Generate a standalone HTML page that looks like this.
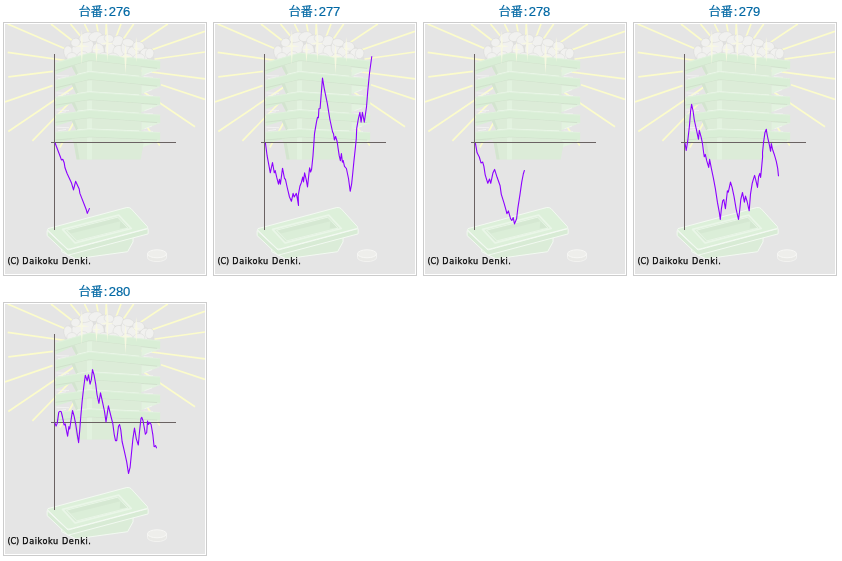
<!DOCTYPE html>
<html><head><meta charset="utf-8"><title>graph</title>
<style>
html,body{margin:0;padding:0;background:#fff}
body{position:relative;width:842px;height:561px;overflow:hidden;font-family:"Liberation Sans","Noto Sans CJK JP",sans-serif}
.t{position:absolute;width:204px;height:22px;line-height:22px;text-align:center;font-size:13px;color:#0068a4;-webkit-text-stroke:0.2px #0068a4}
.j{font-size:12px;margin-right:1.1px;position:relative;top:-0.3px}
.k{margin-right:1.3px}
.c{position:absolute;width:200px;height:250px;padding:1px;border:1px solid #ccc;background:#fff}
.c svg{display:block}
.cp{font-family:"DejaVu Sans Condensed","DejaVu Sans","Liberation Sans",sans-serif;font-size:9px;fill:#000;letter-spacing:0.6px;stroke:#000;stroke-width:0.25px}
</style></head><body>
<svg width="0" height="0" style="position:absolute"><defs>
<g id="tr"><path d="M50.5 38.6L84.5 28.8L155.2 36.7L155.2 44.9L136.4 42.6L84.5 36.8L67.9 42.2L50.5 50.4Z" fill="#d9eed6"/><path d="M136.4 42.6L155.2 44.9L137.9 51.7L136.4 52.0Z" fill="#e2f2df"/><path d="M50.5 46.6L84.5 36.8L152.2 44.4" fill="none" stroke="#cfe0cb" stroke-width="0.9"/><path d="M51.0 38.9L84.5 29.1L154.89999999999998 37.0" fill="none" stroke="#e2f2df" stroke-width="0.7"/><path d="M66.4 42.0L84.5 36.8L136.4 42.6L136.4 53.2L84.5 47.8L71.5 51.4Z" fill="#dcecd8"/><path d="M66.4 42.0L69.7 41.1L73.5 50.4L71.5 51.4Z" fill="#d3e4cf"/><path d="M82 38.0L87 37.6L87 48.0L82 48.4Z" fill="#e2f2df"/><path d="M72 50.8L84.5 47.8L134.2 52.5" fill="none" stroke="#eef8ec" stroke-width="1.5"/><path d="M51.5 51.6L64 52.0M53 54.7L61 53.3M138.5 52.5L148 53.4M139.5 50.7L147 47.9" fill="none" stroke="#f4f4f2" stroke-width="0.8"/>
<path d="M50.5 55.9L84.5 47.8L155.2 54.5L155.2 62.7L136.4 60.7L84.5 55.8L67.9 60.4L50.5 67.7Z" fill="#d9eed6"/><path d="M136.4 60.7L155.2 62.7L137.9 69.5L136.4 69.8Z" fill="#e2f2df"/><path d="M50.5 63.9L84.5 55.8L152.2 62.2" fill="none" stroke="#cfe0cb" stroke-width="0.9"/><path d="M51.0 56.2L84.5 48.1L154.89999999999998 54.8" fill="none" stroke="#e2f2df" stroke-width="0.7"/><path d="M66.4 60.1L84.5 55.8L136.4 60.7L136.4 72.0L84.5 68.0L71.5 70.5Z" fill="#dcecd8"/><path d="M66.4 60.1L69.7 59.3L73.5 69.6L71.5 70.5Z" fill="#d3e4cf"/><path d="M82 56.9L87 56.5L87 68.2L82 68.4Z" fill="#e2f2df"/><path d="M72 69.9L84.5 68.0L134.2 71.3" fill="none" stroke="#eef8ec" stroke-width="1.5"/><path d="M51.5 68.9L64 69.3M53 71.9L61 70.5M138.5 71.2L148 71.8M139.5 68.5L147 65.7" fill="none" stroke="#f4f4f2" stroke-width="0.8"/>
<path d="M50.5 73.1L84.5 68.0L155.2 72.7L155.2 80.9L136.4 79.5L84.5 76.0L67.9 79.1L50.5 84.9Z" fill="#d9eed6"/><path d="M136.4 79.5L155.2 80.9L137.9 87.7L136.4 88.0Z" fill="#e2f2df"/><path d="M50.5 81.1L84.5 76.0L152.2 80.5" fill="none" stroke="#cfe0cb" stroke-width="0.9"/><path d="M51.0 73.4L84.5 68.3L154.89999999999998 73.0" fill="none" stroke="#e2f2df" stroke-width="0.7"/><path d="M66.4 78.7L84.5 76.0L136.4 79.5L136.4 90.1L84.5 86.1L71.5 88.2Z" fill="#dcecd8"/><path d="M66.4 78.7L69.7 78.2L73.5 87.5L71.5 88.2Z" fill="#d3e4cf"/><path d="M82 76.9L87 76.7L87 86.3L82 86.4Z" fill="#e2f2df"/><path d="M72 87.6L84.5 86.1L134.2 89.4" fill="none" stroke="#eef8ec" stroke-width="1.5"/><path d="M51.5 86.1L64 86.5M53 89.1L61 87.7M138.5 89.3L148 89.9M139.5 86.7L147 83.9" fill="none" stroke="#f4f4f2" stroke-width="0.8"/>
<path d="M50.5 90.3L84.5 86.1L155.2 90.8L155.2 99.0L136.4 97.6L84.5 94.1L67.9 96.8L50.5 102.1Z" fill="#d9eed6"/><path d="M136.4 97.6L155.2 99.0L137.9 105.8L136.4 106.1Z" fill="#e2f2df"/><path d="M50.5 98.3L84.5 94.1L152.2 98.6" fill="none" stroke="#cfe0cb" stroke-width="0.9"/><path d="M51.0 90.6L84.5 86.4L154.89999999999998 91.1" fill="none" stroke="#e2f2df" stroke-width="0.7"/><path d="M66.4 96.3L84.5 94.1L136.4 97.6L136.4 107.9L84.5 105.2L71.5 106.8Z" fill="#dcecd8"/><path d="M66.4 96.3L69.7 95.9L73.5 106.1L71.5 106.8Z" fill="#d3e4cf"/><path d="M82 94.9L87 94.8L87 105.3L82 105.4Z" fill="#e2f2df"/><path d="M72 106.2L84.5 105.2L134.2 107.3" fill="none" stroke="#eef8ec" stroke-width="1.5"/><path d="M51.5 103.3L64 103.7M53 106.8L61 105.4M138.5 107.1L148 107.5M139.5 104.8L147 102.0" fill="none" stroke="#f4f4f2" stroke-width="0.8"/>
<path d="M50.5 108.0L84.5 105.2L155.2 108.2L155.2 116.4L136.4 115.4L84.5 113.2L67.9 115.2L50.5 119.8Z" fill="#d9eed6"/><path d="M136.4 115.4L155.2 116.4L137.9 123.2L136.4 123.5Z" fill="#e2f2df"/><path d="M50.5 116.0L84.5 113.2L152.2 116.1" fill="none" stroke="#cfe0cb" stroke-width="0.9"/><path d="M51.0 108.3L84.5 105.5L154.89999999999998 108.5" fill="none" stroke="#e2f2df" stroke-width="0.7"/>
<path d="M66.4 114.7L84.5 113.2L136.4 115.4L138.8 118.5L135.7 135.6L71.6 135.6L68.6 118.5Z" fill="#dcecd8"/><path d="M82 113.9L87 113.8L87 135.6L82 135.6Z" fill="#e2f2df"/><path d="M68.6 118.5L71.6 135.6L74.6 135.6L71.8 118.5Z" fill="#d3e4cf"/></g>
<g id="bg">
<rect width="200" height="250" fill="#e5e5e5"/>
<g stroke="#fcfccb" stroke-width="1.7"><line x1="100" y1="42" x2="2.7" y2="0"/><line x1="100" y1="42" x2="46" y2="0"/><line x1="100" y1="42" x2="65.5" y2="0"/><line x1="100" y1="42" x2="79.5" y2="0"/><line x1="100" y1="42" x2="91.5" y2="0"/><line x1="100" y1="42" x2="101.3" y2="0"/><line x1="100" y1="42" x2="116" y2="0"/><line x1="100" y1="42" x2="128.7" y2="0"/><line x1="100" y1="42" x2="162.8" y2="0"/><line x1="100" y1="42" x2="200" y2="7.4"/><line x1="100" y1="42" x2="200" y2="28"/><line x1="100" y1="42" x2="200" y2="54.8"/><line x1="156" y1="60.7" x2="200" y2="75.5"/><line x1="139" y1="68.2" x2="190" y2="102.8"/><line x1="100" y1="42" x2="154.8" y2="121.5"/><line x1="100" y1="42" x2="2.7" y2="28.3"/><line x1="48" y1="47.4" x2="3.3" y2="52.8"/><line x1="47.5" y1="61.6" x2="0" y2="78"/><line x1="100" y1="42" x2="3.3" y2="107.5"/><line x1="100" y1="42" x2="27.4" y2="116.8"/><line x1="100" y1="42" x2="54.8" y2="123.5"/></g>
<path d="M59.5 38L59.8 34L60.5 26L68.3 17L80 9.8L93 9.1L102 12.4L112.7 13L123 16.3L135 19.6L144 24.8L149.3 34L150 40Z" fill="#e0e0df"/>
<g fill="#f1f1ef" stroke="#d9d9d7" stroke-width="0.5"><ellipse cx="63.7" cy="28.7" rx="4.8" ry="7.0" transform="rotate(-15 63.7 28.7)"/><ellipse cx="72.9" cy="25.5" rx="6.0" ry="7.7" transform="rotate(10 72.9 25.5)"/><ellipse cx="82.7" cy="22.9" rx="6.0" ry="7.7" transform="rotate(15 82.7 22.9)"/><ellipse cx="81.4" cy="13.3" rx="7.7" ry="4.8" transform="rotate(-20 81.4 13.3)"/><ellipse cx="90.5" cy="12.6" rx="6.9" ry="4.8" transform="rotate(-15 90.5 12.6)"/><ellipse cx="98.3" cy="16.3" rx="6.8" ry="5.2" transform="rotate(-10 98.3 16.3)"/><ellipse cx="104.9" cy="24.8" rx="5.2" ry="7.7" transform="rotate(5 104.9 24.8)"/><ellipse cx="112.7" cy="17" rx="6.0" ry="5.1" transform="rotate(-30 112.7 17)"/><ellipse cx="114" cy="27.4" rx="6.0" ry="6.0" transform="rotate(0 114 27.4)"/><ellipse cx="120.5" cy="23.5" rx="4.4" ry="7.2" transform="rotate(0 120.5 23.5)"/><ellipse cx="123.2" cy="18.6" rx="6.0" ry="3.9" transform="rotate(10 123.2 18.6)"/><ellipse cx="128.4" cy="28.1" rx="6.0" ry="5.7" transform="rotate(-30 128.4 28.1)"/><ellipse cx="133.6" cy="22.4" rx="6.0" ry="4.8" transform="rotate(15 133.6 22.4)"/><ellipse cx="140.1" cy="30" rx="5.2" ry="6.0" transform="rotate(30 140.1 30)"/><ellipse cx="144.6" cy="29.5" rx="4.3" ry="5.2" transform="rotate(10 144.6 29.5)"/><ellipse cx="93.1" cy="26.1" rx="6.0" ry="6.9" transform="rotate(-10 93.1 26.1)"/><ellipse cx="70.5" cy="18.5" rx="4.7" ry="4.2" transform="rotate(-30 70.5 18.5)"/><ellipse cx="67" cy="33" rx="5.2" ry="4.5" transform="rotate(0 67 33)"/><ellipse cx="78" cy="32" rx="5.9" ry="4.5" transform="rotate(0 78 32)"/><ellipse cx="88" cy="33" rx="5.9" ry="4.5" transform="rotate(0 88 33)"/><ellipse cx="99" cy="33" rx="5.9" ry="4.5" transform="rotate(0 99 33)"/><ellipse cx="108" cy="33.5" rx="5.9" ry="4.5" transform="rotate(0 108 33.5)"/><ellipse cx="122" cy="34" rx="5.9" ry="4.5" transform="rotate(0 122 34)"/><ellipse cx="134" cy="34" rx="5.9" ry="4.5" transform="rotate(0 134 34)"/><ellipse cx="104" cy="14.5" rx="4.9" ry="3.9" transform="rotate(10 104 14.5)"/></g>
<use href="#tr"/>
<g fill="#f9f9e2" opacity="0.92"><path d="M76.8 5.9L78.0 22.2L76.8 40.5L75.6 22.2Z M69.6 22.2L76.8 21.099999999999998L84 22.2L76.8 23.3Z"/><path d="M91.5 17.6L92.7 25.5L91.5 38.5L90.3 25.5Z M87.3 25.5L91.5 24.4L95.7 25.5L91.5 26.6Z"/><path d="M102.3 0L103.5 19.6L102.3 37.2L101.1 19.6Z M95.7 19.6L102.3 18.5L108.9 19.6L102.3 20.700000000000003Z"/><path d="M120.5 19.6L121.7 32.7L120.5 49.4L119.3 32.7Z M114 32.7L120.5 31.6L127 32.7L120.5 33.800000000000004Z"/><path d="M131.3 13L132.5 24.8L131.3 37.9L130.10000000000002 24.8Z M127.4 24.8L131.3 23.7L135.2 24.8L131.3 25.900000000000002Z"/></g>
<g stroke="#f5faf4" stroke-width="0.9" stroke-linejoin="round">
<path d="M56.7 227.7L71 234.8L122.6 227.7L128 217.9L128 208L56.7 220Z" fill="#dbecd8"/>
<path d="M42.1 206.5L63 226L143.1 204.6L143.1 209.9L63 231.2L42.1 211.6Z" fill="#d8ebd5"/>
<path d="M43 204.6Q42.1 205.4 43.5 206.8L62 224.6Q63 225.4 65 225L141.5 204.6Q143.4 203.8 142.4 202.6L126 184.6Q124.5 183.2 121.8 183.5Z" fill="#ddf0da"/>
</g>
<path d="M57.6 205.4L113.7 191.1L126.2 204.5L70.1 218.8Z" fill="#daedd7" stroke="#eaf6e8" stroke-width="1.8" stroke-linejoin="round"/>
<path d="M61.5 206.2L112.8 193.2L123 204.2L72 216.8Z" fill="#dbeed8" stroke="#e9f5e7" stroke-width="1" stroke-linejoin="round"/>
<path d="M63 206.4L112.4 194L115.4 197.2L66 209.6Z" fill="#d5e8d2"/>
<path d="M112.4 194L115.4 197.2L114.6 204.6L122 203.6Z" fill="#d4e7d1"/>
<path d="M142.5 229.8L142.5 233.6A9.5 4 0 0 0 161.5 233.6L161.5 229.8Z" fill="#e9e9e6" stroke="#f3f3f1" stroke-width="1"/>
<ellipse cx="152" cy="229.8" rx="9.5" ry="4" fill="#eeeeeb" stroke="#f7f7f5" stroke-width="1"/>
</g>
</defs></svg>
<div class="t" style="left:2.5px;top:1px"><span class="j">台番</span><span class="k">:</span>276</div>
<div class="c" style="left:3px;top:22px"><svg width="200" height="250" viewBox="0 0 200 250"><use href="#bg"/>
<path d="M49.5 30V206M46 118.5H171" stroke="#6a6262" stroke-width="1" fill="none" shape-rendering="crispEdges"/>
<polyline points="50.0,118.8 55.7,133.8 56.4,135.9 57.8,135.2 59.2,138.8 60.0,143.8 62.1,149.5 66.4,158.7 68.5,165.9 70.6,157.3 74.2,165.1 74.9,169.4 81.3,185.8 82.3,189.4 84.6,184.1" fill="none" stroke="#8c00ff" stroke-width="1.1" stroke-linejoin="round"/>
<text x="2.6" y="240" class="cp"><tspan style="letter-spacing:-0.15px">(C)</tspan> Daikoku Denki.</text></svg></div>
<div class="t" style="left:212.5px;top:1px"><span class="j">台番</span><span class="k">:</span>277</div>
<div class="c" style="left:213px;top:22px"><svg width="200" height="250" viewBox="0 0 200 250"><use href="#bg"/>
<path d="M49.5 30V206M46 118.5H171" stroke="#6a6262" stroke-width="1" fill="none" shape-rendering="crispEdges"/>
<polyline points="50.4,118.8 52.1,131.7 55.3,148.8 57.5,138.5 59.3,148.8 60.2,146.6 61.8,153.7 63.5,160.2 64.5,155.2 65.4,160.2 67.5,144.2 69.5,154.5 70.4,155.2 72.1,163.0 74.5,173.0 76.4,177.3 78.1,169.4 79.2,173.0 81.3,169.4 82.3,174.4 83.5,181.5 83.2,171.6 84.9,162.3 86.3,158.7 87.8,153.0 88.5,158.0 89.6,148.8 91.3,155.9 92.5,163.0 94.6,143.8 95.6,148.0 96.6,145.2 98.0,131.7 98.8,120.3 99.5,109.7 101.6,97.3 102.5,93.3 103.4,93.7 103.9,84.8 105.1,84.4 107.5,54.1 109.2,64.3 112.3,79.4 114.9,95.5 117.6,108.0 118.5,109.7 119.4,116.0 120.6,112.4 122.1,117.5 124.2,131.7 125.4,136.6 126.4,129.5 127.4,138.1 128.2,136.6 129.5,142.3 131.4,144.5 133.5,154.5 135.2,167.3 136.6,160.2 137.8,148.8 138.9,137.4 140.3,124.5 141.3,114.6 141.7,104.4 143.4,94.6 144.9,88.4 146.1,98.2 147.4,88.4 149.3,98.2 151.5,83.0 152.7,67.9 154.5,49.2 156.8,32.2" fill="none" stroke="#8c00ff" stroke-width="1.1" stroke-linejoin="round"/>
<text x="2.6" y="240" class="cp"><tspan style="letter-spacing:-0.15px">(C)</tspan> Daikoku Denki.</text></svg></div>
<div class="t" style="left:422.5px;top:1px"><span class="j">台番</span><span class="k">:</span>278</div>
<div class="c" style="left:423px;top:22px"><svg width="200" height="250" viewBox="0 0 200 250"><use href="#bg"/>
<path d="M49.5 30V206M46 118.5H171" stroke="#6a6262" stroke-width="1" fill="none" shape-rendering="crispEdges"/>
<polyline points="50.4,119.1 52.1,128.8 54.3,133.0 56.0,138.9 57.7,138.1 58.9,142.3 60.2,150.8 62.8,159.3 64.5,155.0 65.7,159.3 67.9,149.1 69.6,145.4 72.1,153.3 75.1,161.8 76.3,170.3 78.9,178.7 81.1,186.4 81.9,189.7 83.4,186.9 85.6,194.8 86.8,196.5 88.2,193.6 89.5,199.9 91.6,194.8 92.9,183.8 95.0,170.3 96.7,158.4 98.3,150.0 99.5,146.2" fill="none" stroke="#8c00ff" stroke-width="1.1" stroke-linejoin="round"/>
<text x="2.6" y="240" class="cp"><tspan style="letter-spacing:-0.15px">(C)</tspan> Daikoku Denki.</text></svg></div>
<div class="t" style="left:632.5px;top:1px"><span class="j">台番</span><span class="k">:</span>279</div>
<div class="c" style="left:633px;top:22px"><svg width="200" height="250" viewBox="0 0 200 250"><use href="#bg"/>
<path d="M49.5 30V206M46 118.5H171" stroke="#6a6262" stroke-width="1" fill="none" shape-rendering="crispEdges"/>
<polyline points="50.0,119.0 51.2,126.5 52.7,117.2 54.4,102.2 55.6,87.2 56.6,80.4 58.1,87.2 59.3,96.0 61.2,104.7 63.5,115.3 64.3,106.3 66.2,113.4 67.5,119.7 68.7,129.0 69.3,132.8 70.3,130.4 71.7,136.7 73.7,143.4 74.6,135.4 76.4,144.7 78.4,154.1 80.4,164.8 82.4,178.2 84.4,188.9 85.3,195.5 86.4,184.8 87.7,176.8 88.8,175.5 90.4,184.6 92.4,166.8 93.3,168.1 95.5,158.1 97.1,163.4 99.1,172.8 101.1,184.8 103.5,195.5 104.7,186.2 105.8,175.5 107.5,168.5 109.4,178.2 110.5,172.1 112.1,177.5 114.2,186.8 115.5,170.1 117.2,159.4 118.5,154.8 119.6,151.4 120.5,154.8 122.5,163.4 123.6,152.7 124.8,149.4 125.6,153.4 126.5,144.7 127.6,132.7 127.5,128.8 128.5,118.8 129.9,108.8 131.3,105.2 131.8,108.8 132.8,113.8 134.2,120.2 135.6,127.3 136.3,119.5 137.5,125.2 139.2,130.2 141.3,137.3 142.7,144.4 143.5,152.3" fill="none" stroke="#8c00ff" stroke-width="1.1" stroke-linejoin="round"/>
<text x="2.6" y="240" class="cp"><tspan style="letter-spacing:-0.15px">(C)</tspan> Daikoku Denki.</text></svg></div>
<div class="t" style="left:2.5px;top:281px"><span class="j">台番</span><span class="k">:</span>280</div>
<div class="c" style="left:3px;top:302px"><svg width="200" height="250" viewBox="0 0 200 250"><use href="#bg"/>
<path d="M49.5 30V206M46 118.5H171" stroke="#6a6262" stroke-width="1" fill="none" shape-rendering="crispEdges"/>
<polyline points="49.8,118.6 51.1,122.1 52.2,119.4 53.8,108.1 55.1,107.3 56.2,107.7 57.5,113.0 59.1,121.0 60.2,119.9 61.5,126.6 62.6,132.2 63.9,122.6 64.7,125.0 65.9,117.0 67.5,106.5 69.1,112.2 70.7,120.2 72.3,130.6 73.6,138.6 74.7,126.6 75.8,112.2 77.1,97.7 78.7,83.3 80.3,71.2 82.2,76.9 83.5,70.8 85.1,80.1 86.4,75.3 87.5,65.6 89.1,71.2 90.7,80.1 92.0,90.5 93.9,99.3 95.5,88.9 97.1,96.1 99.5,107.3 101.0,117.9 103.4,101.8 106.0,112.5 107.8,119.6 109.2,130.3 110.5,136.6 111.7,136.6 113.5,122.3 114.6,120.5 115.8,125.9 117.1,137.5 119.4,147.3 121.7,157.9 123.5,169.5 125.1,163.3 126.5,149.0 127.9,134.8 129.5,124.1 131.3,134.8 133.3,141.0 134.5,127.7 136.0,114.3 136.8,113.4 138.1,117.0 139.5,125.0 140.4,130.3 141.7,128.5 142.5,117.0 143.4,120.5 144.9,118.4 146.1,120.5 147.9,131.2 149.1,142.8 150.6,141.6 151.6,144.2" fill="none" stroke="#8c00ff" stroke-width="1.1" stroke-linejoin="round"/>
<text x="2.6" y="240" class="cp"><tspan style="letter-spacing:-0.15px">(C)</tspan> Daikoku Denki.</text></svg></div>

</body></html>
